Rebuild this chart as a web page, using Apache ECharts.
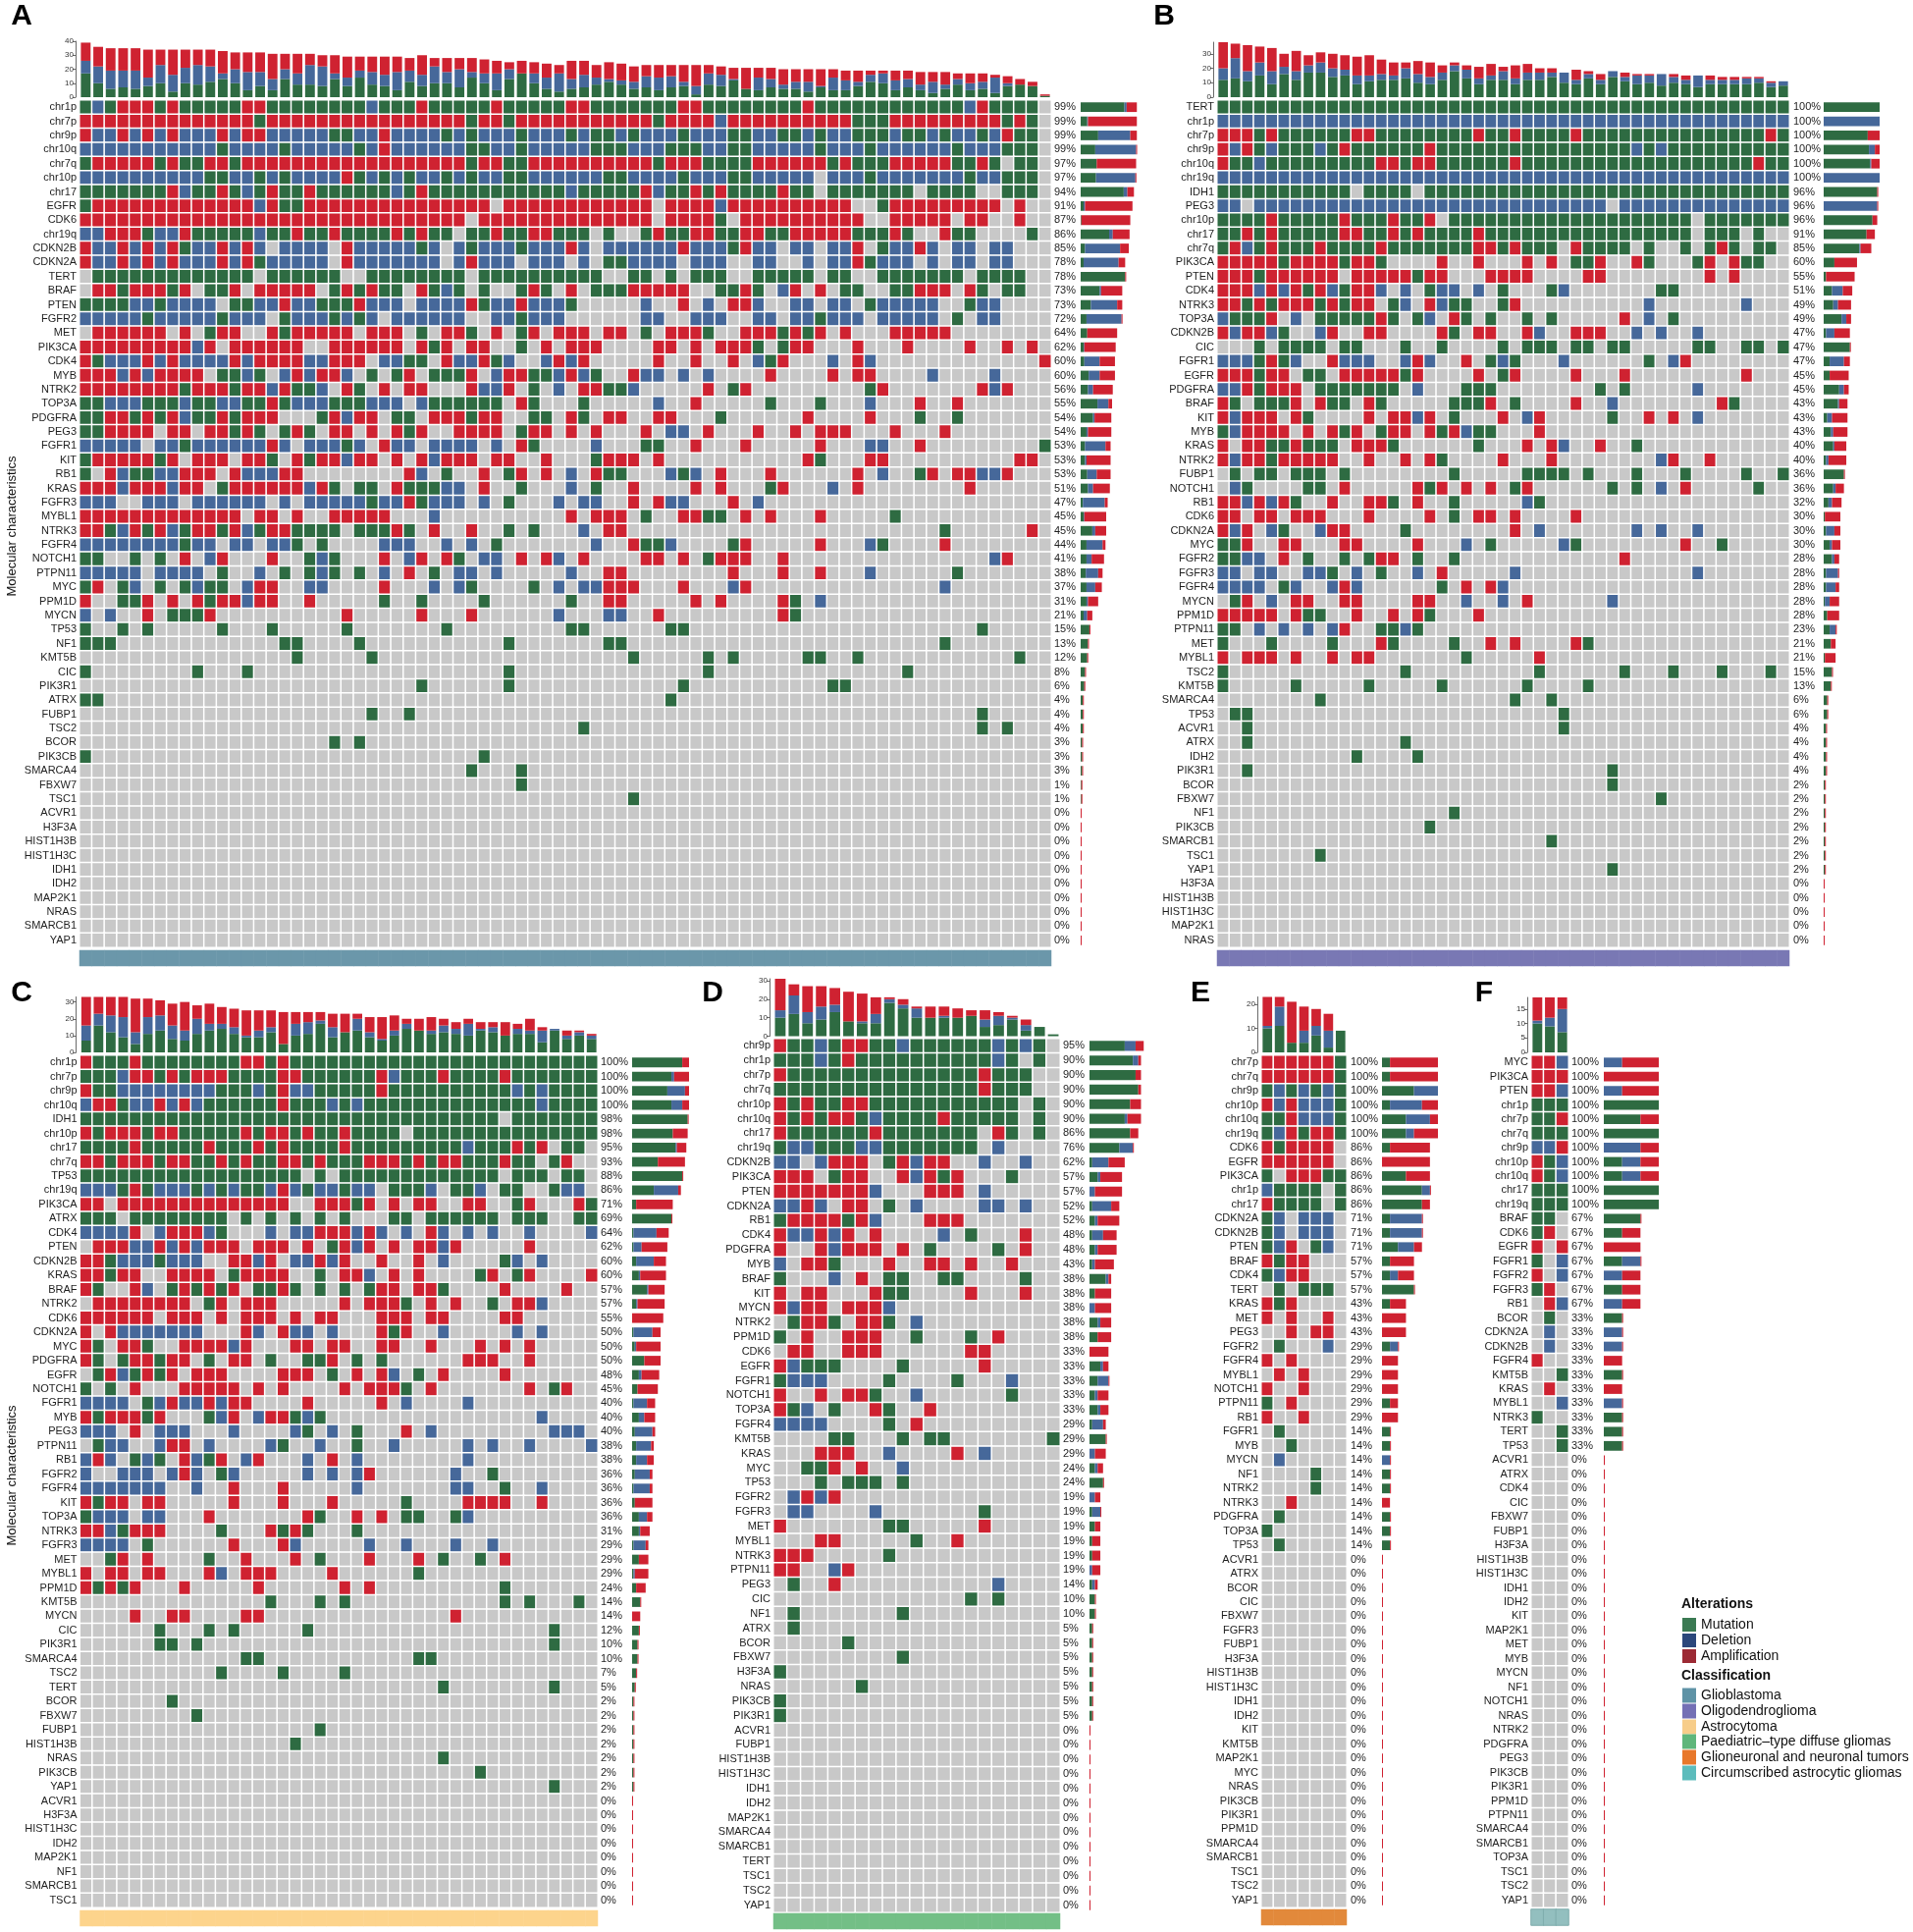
<!DOCTYPE html>
<html lang="en">
<head>
<meta charset="UTF-8">
<title>Molecular characteristics oncoprints</title>
<script src="https://cdn.jsdelivr.net/npm/echarts/dist/echarts.min.js"></script>
<style>
  html, body { margin: 0; padding: 0; background: #fff; }
  #chart { width: 1949px; height: 1968px; }
</style>
</head>
<body>
<div id="chart"></div>
<script>
// ---------- data ----------
// cell codes: '.' none, m mutation, d deletion, a amplification (spaces are only for reading)
var alterations = ['Mutation', 'Deletion', 'Amplification'];
var classNames = ['Glioblastoma', 'Oligodendroglioma', 'Astrocytoma',
  'Paediatric\u2013type diffuse gliomas', 'Glioneuronal and neuronal tumors', 'Circumscribed astrocytic gliomas'];

var genesA = ['chr1p','chr7p','chr9p','chr10q','chr7q','chr10p','chr17','EGFR','CDK6','chr19q','CDKN2B','CDKN2A','TERT','BRAF','PTEN','FGFR2','MET','PIK3CA','CDK4','MYB','NTRK2','TOP3A','PDGFRA','PEG3','FGFR1','KIT','RB1','KRAS','FGFR3','MYBL1','NTRK3','FGFR4','NOTCH1','PTPN11','MYC','PPM1D','MYCN','TP53','NF1','KMT5B','CIC','PIK3R1','ATRX','FUBP1','TSC2','BCOR','PIK3CB','SMARCA4','FBXW7','TSC1','ACVR1','H3F3A','HIST1H3B','HIST1H3C','IDH1','IDH2','MAP2K1','NRAS','SMARCB1','YAP1'];
var rowsA = [
'mdmaaamamm mmmaammmmm mmmdmmmamm mmmammmmma ammmmmmmaa mmmmmmmmam mmmmmmmmmm mdammmm.',
'aaaaaaaaaa aaaamaaaaa aaaaaaaaaa amaamaaaaa aaaaaamaaa adaaaaaaaa aammmaaaaa aaaamam.',
'addadadadd dadaaddddd mmddaddddm dmdddmdddm dmmdmdddmd ddmmddmmdm ddmmmdmmdm ddmdamm.',
'dddddddddd dmddddmddd ddmdaddddd dmmddmdddd dmmmdddmmm ddmmdddddm dddmdddddd mdddmmm.',
'maaaaamamm aamaaaaaaa aaaaaaaaaa amaammaaaa aaaaaamaaa mmmmaaaaaa mammmaaaaa mmam.mm.',
'dddddddddd mmddmdmddd damdmdmddm dmddmmdddd ddmmddddmd ddmmddddd. dddmdddddd dmddmmm.',
'mmmmmmmadm mamdmammam mmmmmdmamm mmmmmmmmmd mmmmmadmma mammmmamm. mmmmmmm.mm mm..mmm.',
'maaaaaaaaa aaaadammaa aaaaaaaaaa aaa.aaaaaa aaaaaa.aaa adaaaaaaaa aa..maaaaa aaaa.a..',
'aaaaaaaaaa aaaaaaaaaa aaaaaaaaaa a.aaaaaaaa aaaaaa.aaa am.aaaaaaa aaa..aaaaa .aa..a..',
'ddaaamddam mmmmdmmamm ammmmamamm .mmammaamm m.m..mamma ammaammaaa aammmam..a mm....m.',
'addadadamd dadad.dddd .adddddmd. dmdddmddda d.ddddddad ddmadd.dd. dda.mddad. dd.dd...',
'addadadadd dadamddddd .addddddd. daddd.ddd. d.mmdddd.d dd..dd..d. ddamddd.d. dd.dd...',
'.mmmmmmmmm mmmm.mmmmm m..mmmmmmm m.mmmmmmmm mm..mm.m.m mm..mmmmm. mm..mmmmmm m.mmmm..',
'.aamaaama. mma.aaaaa. mamamm.amd m.m..mam.a .mmmaaaaa. .mmam.da.a .mm..mmaaa .am.mm..',
'mmmmddmddd d.mmddaddm mmaddd.ddd damddadddm .....d..a. d.aad..dd. dd.mddddd. .mdd....',
'dddddmdddd dmddd.mddd mdmd.ddddd d..ddmddd. .....dd..d dd..dd.ddm ddd.ddddd. m.dd....',
'.aaaaaa.a. maa..amaaa aa.aaa.m.a am.a.ma.aa a.aa.m.aaa m..aaamama .a...aaaaa',
'aaaaaaaaad a.aaaaaa.. aaaaaa.ama .aa..m.a.a aa....aa.a .aaam.maa. ..a...a... .a..a.a.',
'amdddadadd ddadaaaadd aaa.ddmm.a ddamd..dad a.....a..a ..a.dma... d.ad...... .......a',
'aaadadaaaa .mmdm.dada ad.m.ma.mm ma.daammda dm..add.d. d....a.... a.aa....d. ...d',
'aaaaaaaama aamaadammd .am.a.aa.. .adda.m.d. aammd..... a.ma...... ...ma..... ..ada',
'mmdddmmmdm mddmmamddd mmmddd.dmm mmmm.am... m.....d..a .....m...m ...d...a.. a',
'mmaamamadm mamaaa...m adaa.mm.aa amaa..mm.a m.aa..aa.. .m......a. ...a...m.. m',
'mmaaaa.aa. aamam.mam. aa.a.ama.. aaaa.maa.a .a...a.dd. a...a..a.a aa...a...a',
'ddddd.ddmd dddddad.dd dmd.add.dd dd.d.am... .d...mm..a ...a.....a ...dd..a.. .......m',
'maaaaama.a aa.aam.ama adaa.a.ada aa.aa..a.. .maaa.a... ........am ...aa..... .....aa',
'm.admmddaa a.adddaa.. ......ad.m ..a.ma.a.d .amm...dmd .a...a.... ..a.d..ma. aadda',
'aaadaaadaa .maaaaaada m.mm.ammmd d.a..m...d .m..a....a .a...ma... d.a....... .a',
'ddd..ddd.d ddddd.d.dd dddmddamdd d.d.m...d. dd..a.add. ..a.d',
'aaaaaaaaaa aaa.aa.a.. aaaaa...d. .........a .aaa.m..aa mm.a.a...a .....m',
'aamdamadma amadmaammm m.mmmam.a. .a..m.m... d.aa...... .......... .........m ......a',
'ddddddddmd d.dd.ddm.m ....ddd..d .d.m...... .d..ammd.. ..ma.....a ...dm....a',
'mm..m.m.a. da...a..md m...a.da.a m.dd.a.ad. a....aa.a. maaa..a... .......... ...da',
'ddddd.dddd .m..d.m.md m.m.d.a.m. dd.d.....d ..aa...... ..a...a..a ...d...... m',
'ma.md.m.md mm.daa..dd ....a...d. dm....m.d. ddaaa...a. ..da...... .........d',
'a..mma.a.a maadaa..a. ....m..m.. ..m......m ..aa.....a .a....am.d',
'd.d..a.mmm a......... .a.....a.. .a......d. ..dd..a... ......am',
'm..m.m.... .m...m.... .m.......m .........m m......mm. .......... .......... ..m',
'mmm....... ......mm.. ..m....... ....m..... ..mm...... .......... .........m',
'.......... .......m.. ...m...... .......... ....m..... m.m.....mm ..m....... .....m',
'm........m ...m...... .......... ....m..... .......... m......... ......m',
'.......... .......... .......m.. ....m..... ........m. .......... mm',
'mm........ .......... .......... .......... .......m',
'.......... .......... ...m..m... .......... .......... .......... .......... ..m',
'.......... .......... .......... .......... m......... .......... .......... ..m.m',
'.......... .......... m.m',
'm......... .......... .......... ..m',
'.......... .......... .......... .m...m',
'.......... .......... .......... .....m',
'.......... .......... .......... .......... ....m'
];

var genesB = ['TERT','chr1p','chr7p','chr9p','chr10q','chr19q','IDH1','PEG3','chr10p','chr17','chr7q','PIK3CA','PTEN','CDK4','NTRK3','TOP3A','CDKN2B','CIC','FGFR1','EGFR','PDGFRA','BRAF','KIT','MYB','KRAS','NTRK2','FUBP1','NOTCH1','RB1','CDK6','CDKN2A','MYC','FGFR2','FGFR3','FGFR4','MYCN','PPM1D','PTPN11','MET','MYBL1','TSC2','KMT5B','SMARCA4','TP53','ACVR1','ATRX','IDH2','PIK3R1','BCOR','FBXW7','NF1','PIK3CB','SMARCB1','TSC1','YAP1','H3F3A','HIST1H3B','HIST1H3C','MAP2K1','NRAS'];
var rowsB = [
'mmmmmmmmmm mmmmmmmmmm mmmmmmmmmm mmmmmmmmmm mmmmmmm',
'dddddddddd dddddddddd dddddddddd dddddddddd ddddddd',
'aaamammmmm maammmmmmm mammammmma mmmmmmmmmm mmmmmam',
'adamdmmmdm ammmmmmamm mmmmmmmmmm mmmmdmdmmm mmmmmmm',
'ammdmmmmmm mmmaamaamm mmmmammmmm mmmmmmmmmm mmmmamm',
'dddddddddd dddddddddd dddddddddd dddddddddd ddddddd',
'mmmmmmmmmm m.mmmm.mmm mmmmmmmmmm mmmmmmmmmm mmmmmmm',
'dd.ddddddd dddddddddd dddddddddd dd.ddddddd ddddddd',
'mmmmammmmm ammmamma.m mmmmmmmmmm mmmmmmmmm. mmmmmmm',
'mmamammmmm aammamammm mammmmmmmm mmmmmmmmm. mmm.m..',
'madmammmam mmmammmmmm maamammm.a mmmm.m..m. mam.mm.',
'aaaaamaaaa maam....a. .a...a.a.m ma..am...m a.amm..',
'aaamaaaaaa .aaaaamaa. ..aaaa.... aa........ a.a....',
'aaadadamad maad.d.mdd .d.m...md. ......mm..',
'aamamaaama maa.md.adm m..ma..... .....d.... ...d',
'dmmma.d.mm mmmam.md.a m.m..m.m.. ...a.d.m..',
'adaadm..da ..aa....am .aa..ad..a aa..d.d..d',
'...m.mmmm. mm...m..m. ...m.mmm.m m.mm.....m m..mm.m',
'dddmamd..a ddd..dad.. a.mdm...d. .....m.da.',
'aaamaa.mm. aaaaama... .a.ma....a ...a...... ...a',
'ddamaaa.mm mmmmm.d... mmm....... .m.m.....d',
'am.mmma.am m.am.....m mma.m....a ..d....... .am',
'adaaa.am.. ..a.aada.m ...a.da... ..m..a.a.d',
'mdaaaa.a.a ma.maa.ama dmm...a',
'a.aammammm .aaam..... .m...a.ad. .a..m',
'adaamaaaaa ..a..a.am. ...a...a.. ......da.. a',
'.m.mm.mmm. m........m .....mmmm. m...m...m. ...m..m',
'.dm....mm. a.....ama. a.a.ma.... ..m.m.d.a. ....m',
'aadadam..a ..aam.a..m .....dm',
'aa.aa.aaa. ..a....a.m .aa.a....a',
'ada.dm..da a....m.... ....a.d... ....d.d..d',
'mma..aa... aa....a... d.m.....dm ........a. .m',
'mmdd.a.m.. m.maa.m..m .......... ...a',
'dd.dd..ddm .d.m..d.a. ....d..... .........d',
'dddd.md..d ad......m. a.ad',
'.ma.d.aa.. aa....aa.. d..d.a.... ..d',
'aaaaa.amm. .a..a.am.. .a',
'mm.d.d.d.d a..mmdm',
'm...m....m ...am....m ..a.a....a m',
'a.aaa.a..a .aa....... m.....a',
'm......... .....m.... ......m... ...m...m.. .m...m',
'm.....m... ..m.....m. .....m.... m',
'........m. .......... ....m..m',
'.mm....... .......... ........m',
'..m....... .......... ........m',
'..m....... .....m',
'.......... .m....m',
'..m....... .......... .......... ..m',
'.......... .......... .......... ..m',
'.......... .......... .......... ......m',
'.......... .........m',
'.......... .......m',
'.......... .......... .......m',
'........m',
'.......... .......... .......... ..m'
];

var genesC = ['chr1p','chr7p','chr9p','chr10q','IDH1','chr10p','chr17','chr7q','TP53','chr19q','PIK3CA','ATRX','CDK4','PTEN','CDKN2B','KRAS','BRAF','NTRK2','CDK6','CDKN2A','MYC','PDGFRA','EGFR','NOTCH1','FGFR1','MYB','PEG3','PTPN11','RB1','FGFR2','FGFR4','KIT','TOP3A','NTRK3','FGFR3','MET','MYBL1','PPM1D','KMT5B','MYCN','CIC','PIK3R1','SMARCA4','TSC2','TERT','BCOR','FBXW7','FUBP1','HIST1H3B','NRAS','PIK3CB','YAP1','ACVR1','H3F3A','HIST1H3C','IDH2','MAP2K1','NF1','SMARCB1','TSC1'];
var rowsC = [
'ammmammmmm mmmaamammm mmmmmmmmmm mmmmmmmmmm mm',
'mmmdaamama aammmmaamm mmmmadmmma mmmmammmmm mm',
'ammddddddd dmmmdmaddm mmmmammmmm mmmmmdmdmm mm',
'daamddadad mmmmmmammm dmdmmmmmmm mmmmmmmdmm mm',
'mmmmmmmmmm mmmmmmmmmm mmmmmmmmmm mmmm.mmmmm mm',
'amaaamaamm mmmamaamam mammmm.mmm mmmmmmmmmm mm',
'mmmmammmmm ammmamammm mammmmmmmm mdmmmama.m m.',
'aamaaamaam mamammaama mmmaaamama ammmamm.ma ..',
'mmmmmmmmmm mmmmmmmm.m .mmmmmmmmm mmmm.mmm.m m.',
'dddmamdddm dmdmmdadmd dmdd.mmmd. mmd.mm..md d.',
'aa.aaaaaaa aaaaaaa..a aama.a.aa. .aa..ma... am',
'mmm.mmmmmm mm.m.m.m.m .m...mm.mm mmmm.mmm.. mm',
'dddda.daaa dm...d.dda aadad.d.ad .d.d..d... .d',
'.aaaddadad aaa.aaa.a. mada.a.aad a.....a...',
'aamdddmddd ..aada.dda da..a..a.d ....md.d..',
'aamaa..aaa a.maaaa..m .aad.a.a.. ..ma.ma... .a',
'am..ad.mam ama.mmam.m .m.maa.aam ....a....a',
'.aaaaaaaa. ma.aaa.... .a.aaam.a. a..m.aad..',
'aaaaaa.aaa .a.aaa.a.a a...aaa.aa ....aa',
'a.addddddd ...ad.add. d...ama..d .....d.d',
'am.aam..aa aada...aa. aa..aa..a. ..a.a.a',
'am.maamaa. m.aa.m..mm a.m.m..... .aaa..a',
'.madmama.a aa....aaa. m.a.ad.m.a ....a',
'm.m.a...aa aaa.a.a... .a.aaam.a. ......a.ma',
'dddd.mdadd adaa....a. ....a.d... .d',
'amaaama... mda.daamdm .......... .......d',
'ddd.a.ddd. ..d....dm. d.m...a.d. ........dd d',
'.mdd..daa. d....dm..d ..m..d.... .d.d..d... .d',
'dad.mdm.ad ma.da...d. a.d....... .d',
'd..ddd.dad .md.....d. d.da...... d..m',
'ddddddd..d ..a...a... ..d....... dd..m..d',
'amaa.aa... ..a...a... a.....m... .aaaa..a',
'mddd.dd... a.......am ..a.a.mm.. md',
'aadmaaa... .m...amam. ..m',
'dddd.m.... ..a...ad.. ...d..d... d..d',
'..ma.a.... m..a...a.m ...a...a.m ..m.a',
'a.aa.aa... ad.aaa.... a......m',
'amama...a. ....a..... .a.a...... ....m',
'.......... .....m...m .m........ ....m.m... m',
'....a..aa. ...aa..... .......... a',
'......m... m.m.....m. .......... ........m',
'......mm.m .......... .......... ........m',
'.......... ...mm..... .......mm',
'.......... .m....m... .m',
'.......... .......... .........m ........m',
'.......m',
'.........m',
'.......... .........m',
'.......... .......m',
'.......... .......... .........m',
'.......... .......... .......... ..m',
'.......... .......... .......... ........m'
];

var genesD = ['chr9p','chr1p','chr7p','chr7q','chr10p','chr10q','chr17','chr19q','CDKN2B','PIK3CA','PTEN','CDKN2A','RB1','CDK4','PDGFRA','MYB','BRAF','KIT','MYCN','NTRK2','PPM1D','CDK6','EGFR','FGFR1','NOTCH1','TOP3A','FGFR4','KMT5B','KRAS','MYC','TP53','FGFR2','FGFR3','MET','MYBL1','NTRK3','PTPN11','PEG3','CIC','NF1','ATRX','BCOR','FBXW7','H3F3A','NRAS','PIK3CB','PIK3R1','ACVR1','FUBP1','HIST1H3B','HIST1H3C','IDH1','IDH2','MAP2K1','SMARCA4','SMARCB1','TERT','TSC1','TSC2','YAP1'];
var rowsD = [
'ammdmaammd mmmmmmdmdm', 'mmmdmammmm mmmmmmdm.m', 'ammmmmmmmm mmmmmammm', 'mmmmmmmmmm mmmmmammm',
'amammaammm mmmmmmmm.m', 'amamaamdmm mmammmmm.m', 'ammmmmmamm mmmmm.am.m', 'mddmmmddmm mmmmm.d',
'dd.daaa.ma daa..d..d', 'aaa.maa..a dama...m', 'aaaaaaad.. .aaa.d', 'ddad.aa.m. d....dd.d',
'maaaamad.. .aaa', 'addada.a.. ..d.m...a', 'a..adaaa.a .m....m.a', 'd.aam...a. .aa.a..a',
'm...d.a.mm ..mm....m', 'a.aa...amm ....a...a', 'adaa.aaad', '.maam.aam. d',
'm.a..aaa.. m...m.a', '.aa..aaa.. ....aa', 'admmm....m .....a', 'mddd....m. ...m...d',
'a..a.aam.. d......m', 'amd.m..am. .a', 'dddd....m. a', '....mm...m .mm....... m',
'...aaa..d. ...a.d', '..mma.a..d', '...m.mmm.m', '.dada',
'.dd....d.. .....m', 'a.......mm .....a', '...aa..... m..a', 'aaa.....m',
'aa..da', '.m..a..... ......d', '.......... ....m.m', '.m.......m',
'.m', '.....m', '.........m', 'm', '......m', 'm', 'm'
];

var genesE = ['chr7p','chr7q','chr9p','chr10p','chr10q','chr19q','CDK6','EGFR','PIK3CA','chr1p','chr17','CDKN2A','CDKN2B','PTEN','BRAF','CDK4','TERT','KRAS','MET','PEG3','FGFR2','FGFR4','MYBL1','NOTCH1','PTPN11','RB1','FGFR1','MYB','MYCN','NF1','NTRK2','NTRK3','PDGFRA','TOP3A','TP53','ACVR1','ATRX','BCOR','CIC','FBXW7','FGFR3','FUBP1','H3F3A','HIST1H3B','HIST1H3C','IDH1','IDH2','KIT','KMT5B','MAP2K1','MYC','NRAS','PIK3CB','PIK3R1','PPM1D','SMARCA4','SMARCB1','TSC1','TSC2','YAP1'];
var rowsE = [
'aaaaaam', 'aaaaaam', 'mdmdmdm', 'adadddm', 'mmadddm', 'mdamaam', 'amaaaa.', 'aaaaaa.',
'm.aaamm', 'dmmmm.m', 'ammmm.m', 'md.ddd.', 'md.ddd.', 'mda.md.', 'amaa', 'mdaa',
'.m.mmm.', 'ama', 'a.a..a', '..a.aa', '.m...d', 'a.a', '.a.a', 'a..a', 'm.a', 'a..a',
'.m', '..m', '.d', '....m', '....m', '..a', '.m', 'm', '.m'
];

var genesF = ['MYC','PIK3CA','PTEN','chr1p','chr7p','chr7q','chr9p','chr10p','chr10q','chr17','chr19q','BRAF','CDK6','EGFR','FGFR1','FGFR2','FGFR3','RB1','BCOR','CDKN2A','CDKN2B','FGFR4','KMT5B','KRAS','MYBL1','NTRK3','TERT','TP53','ACVR1','ATRX','CDK4','CIC','FBXW7','FUBP1','H3F3A','HIST1H3B','HIST1H3C','IDH1','IDH2','KIT','MAP2K1','MET','MYB','MYCN','NF1','NOTCH1','NRAS','NTRK2','PDGFRA','PEG3','PIK3CB','PIK3R1','PPM1D','PTPN11','SMARCA4','SMARCB1','TOP3A','TSC1','TSC2','YAP1'];
var rowsF = [
'aad', 'aaa', 'aad', 'mmm', 'mma', 'mmm', 'dda', 'amd', 'amd', 'mmm', 'mmm', 'mm.', 'ma.', 'a.a',
'm.d', 'a.d', 'ma.', '.ad', '.m', '.d', '.d', 'a', '..m', '.a', '..d', 'm', '..m', '..m'
];

var sampleCounts = [78, 47, 42, 21, 7, 3];
var panelClass = [0, 1, 2, 3, 4, 5];
var topTicks = [[0, 10, 20, 30, 40], [0, 10, 20, 30], [0, 10, 20, 30], [0, 10, 20, 30], [0, 10, 20], [0, 5, 10, 15]];

// ---------- layout ----------
var FONT = '"Liberation Sans", Arial, Helvetica, sans-serif';
var HEAT = ['#c8c8c8', '#2e6b42', '#46689a', '#cf2231'];
var LEG_ALT = ['#3b7a53', '#2b477b', '#9c2a34'];
var CLS_BAR = ['#6b97aa', '#7978b4', '#fdd48c', '#73bf86', '#e2893b', '#93bfbf'];
var CLS_LEG = ['#5f93a6', '#7470b5', '#f7cd8a', '#5fb67b', '#e8782b', '#5cbcbc'];

var panels = [
  {key: 'A', genes: genesA, rows: rowsA, hm: [81, 102, 990, 863], top: [42, 99], topMax: 40, pctX: 1074, rb: [1101, 58], clsY: 968, letter: [22, 17]},
  {key: 'B', genes: genesB, rows: rowsB, hm: [1240, 102, 583, 863], top: [43, 99], pctX: 1827, rb: [1858, 57], clsY: 968, letter: [1186, 17]},
  {key: 'C', genes: genesC, rows: rowsC, hm: [81.5, 1075, 527.5, 868], top: [1015.5, 1072], pctX: 612, rb: [644, 58], clsY: 1946, letter: [22, 1012]},
  {key: 'D', genes: genesD, rows: rowsD, hm: [788, 1058, 292, 890], top: [997, 1055.5], pctX: 1083, rb: [1110, 58], clsY: 1949, letter: [726, 1012]},
  {key: 'E', genes: genesE, rows: rowsE, hm: [1285, 1075, 87, 868], top: [1015.5, 1072], pctX: 1376, rb: [1408, 57], clsY: 1945, letter: [1223, 1012]},
  {key: 'F', genes: genesF, rows: rowsF, hm: [1560, 1075, 38, 868], top: [1016, 1072], pctX: 1601, rb: [1634, 56], clsY: 1945, letter: [1512, 1012]}
];

var CODE = {'.': 0, m: 1, d: 2, a: 3};
// one row per gene; genes without a string have no alterations
function toMatrix(genes, rows, n) {
  return genes.map(function (g, i) {
    var r = (rows[i] || '').replace(/ /g, '');
    return r.padEnd(n, '.').slice(0, n).split('').map(function (c) { return CODE[c]; });
  });
}

var option = {
  backgroundColor: '#fff',
  animation: false,
  textStyle: {fontFamily: FONT},
  grid: [], xAxis: [], yAxis: [], series: [], graphic: []
};
var heatSeries = [];

function addGrid(rect) {
  option.grid.push({left: rect[0], top: rect[1], width: rect[2], height: rect[3], containLabel: false});
  return option.grid.length - 1;
}

panels.forEach(function (p, pi) {
  var n = sampleCounts[pi];
  var M = toMatrix(p.genes, p.rows, n);
  var cats = [];
  for (var j = 0; j < n; j++) cats.push(String(j));
  var hx = p.hm[0], hy = p.hm[1], hw = p.hm[2], hh = p.hm[3];

  var colCount = [1, 2, 3].map(function (t) {
    return cats.map(function (c, j) { return M.filter(function (r) { return r[j] === t; }).length; });
  });
  var rowCount = [1, 2, 3].map(function (t) {
    return M.map(function (r) { return r.filter(function (v) { return v === t; }).length; });
  });
  var totals = cats.map(function (c, j) { return colCount[0][j] + colCount[1][j] + colCount[2][j]; });
  var pct = M.map(function (r) {
    return Math.round(100 * r.filter(function (v) { return v > 0; }).length / n) + '%';
  });

  // column totals on top
  var g = addGrid([hx, p.top[0], hw, p.top[1] - p.top[0]]);
  option.xAxis.push({type: 'category', gridIndex: g, data: cats, show: false});
  option.yAxis.push({
    type: 'value', gridIndex: g, min: 0, max: p.topMax || Math.max.apply(null, totals), offset: 4,
    axisLine: {show: true, lineStyle: {color: '#444', width: 0.8}},
    axisTick: {show: true, length: 3, lineStyle: {color: '#444', width: 0.8}, customValues: topTicks[pi]},
    axisLabel: {fontSize: 8, color: '#333', margin: 2, customValues: topTicks[pi]},
    splitLine: {show: false}
  });
  alterations.forEach(function (name, t) {
    option.series.push({
      type: 'bar', name: name, xAxisIndex: g, yAxisIndex: g, stack: 'top' + p.key,
      data: colCount[t], barWidth: '78%', silent: true, itemStyle: {color: HEAT[t + 1]}
    });
  });

  // alteration matrix
  g = addGrid([hx, hy, hw, hh]);
  option.xAxis.push({type: 'category', gridIndex: g, data: cats, show: false});
  option.yAxis.push({
    type: 'category', gridIndex: g, data: p.genes, inverse: true,
    axisLine: {show: false}, axisTick: {show: false},
    axisLabel: {interval: 0, fontSize: 11, color: '#1e1e1e', margin: 3}
  });
  var cells = [];
  M.forEach(function (r, i) { r.forEach(function (v, j) { cells.push([j, i, v]); }); });
  heatSeries.push(option.series.length);
  option.series.push({
    type: 'heatmap', xAxisIndex: g, yAxisIndex: g, data: cells, progressive: 0, silent: true,
    itemStyle: {borderColor: '#fff', borderWidth: 1.5}, emphasis: {disabled: true}
  });

  // per-gene frequency bars and percentages
  g = addGrid([p.rb[0], hy, p.rb[1], hh]);
  option.xAxis.push({type: 'value', gridIndex: g, min: 0, max: n, show: false});
  option.yAxis.push({
    type: 'category', gridIndex: g, data: pct, inverse: true,
    axisLine: {show: false}, axisTick: {show: false},
    axisLabel: {interval: 0, fontSize: 11, color: '#1e1e1e', align: 'left', margin: p.rb[0] - p.pctX}
  });
  alterations.forEach(function (name, t) {
    var s = {
      type: 'bar', name: name, xAxisIndex: g, yAxisIndex: g, stack: 'rb' + p.key,
      data: rowCount[t], barWidth: '68%', silent: true, itemStyle: {color: HEAT[t + 1]}
    };
    if (t === 2) s.barMinHeight = 1;
    option.series.push(s);
  });

  // classification strip
  g = addGrid([hx, p.clsY, hw, 16]);
  option.xAxis.push({type: 'category', gridIndex: g, data: cats, show: false});
  option.yAxis.push({type: 'category', gridIndex: g, data: ['class'], show: false});
  heatSeries.push(option.series.length);
  option.series.push({
    type: 'heatmap', xAxisIndex: g, yAxisIndex: g, silent: true, progressive: 0,
    data: cats.map(function (c, j) { return [j, 0, 10 + panelClass[pi]]; }),
    itemStyle: pi === 5 ? {borderColor: '#7fadad', borderWidth: 1} : {borderWidth: 0},
    emphasis: {disabled: true}
  });

  option.graphic.push({
    type: 'text', x: p.letter[0], y: p.letter[1], silent: true,
    style: {text: p.key, font: 'bold 30px ' + FONT, fill: '#000', align: 'center', verticalAlign: 'middle'}
  });
});

var pieces = HEAT.map(function (c, k) { return {value: k, color: c}; });
CLS_BAR.forEach(function (c, k) { pieces.push({value: 10 + k, color: c}); });
option.visualMap = [{type: 'piecewise', show: false, dimension: 2, seriesIndex: heatSeries, pieces: pieces}];

// axis titles
[536, 1503].forEach(function (cy) {
  option.graphic.push({
    type: 'text', x: 12, y: cy, rotation: Math.PI / 2, silent: true,
    style: {text: 'Molecular characteristics', font: '13px ' + FONT, fill: '#111', align: 'center', verticalAlign: 'middle'}
  });
});

// legend
var lx = 1714;
option.graphic.push({type: 'text', x: lx - 1, y: 1634, silent: true,
  style: {text: 'Alterations', font: 'bold 14px ' + FONT, fill: '#111', verticalAlign: 'middle'}});
[1655, 1671, 1687].forEach(function (cy, k) {
  option.graphic.push({type: 'rect', silent: true, shape: {x: lx, y: cy - 7, width: 14, height: 14}, style: {fill: LEG_ALT[k]}});
  option.graphic.push({type: 'text', x: lx + 19, y: cy, silent: true,
    style: {text: alterations[k], font: '14px ' + FONT, fill: '#111', verticalAlign: 'middle'}});
});
option.graphic.push({type: 'text', x: lx - 1, y: 1707, silent: true,
  style: {text: 'Classification', font: 'bold 14px ' + FONT, fill: '#111', verticalAlign: 'middle'}});
[1727, 1743, 1759, 1774, 1790, 1806].forEach(function (cy, k) {
  option.graphic.push({type: 'rect', silent: true, shape: {x: lx, y: cy - 7.5, width: 14, height: 15}, style: {fill: CLS_LEG[k]}});
  option.graphic.push({type: 'text', x: lx + 19, y: cy, silent: true,
    style: {text: classNames[k], font: '14px ' + FONT, fill: '#111', verticalAlign: 'middle'}});
});

var chart = echarts.init(document.getElementById('chart'), null, {renderer: 'canvas'});
chart.setOption(option);
</script>
</body>
</html>
